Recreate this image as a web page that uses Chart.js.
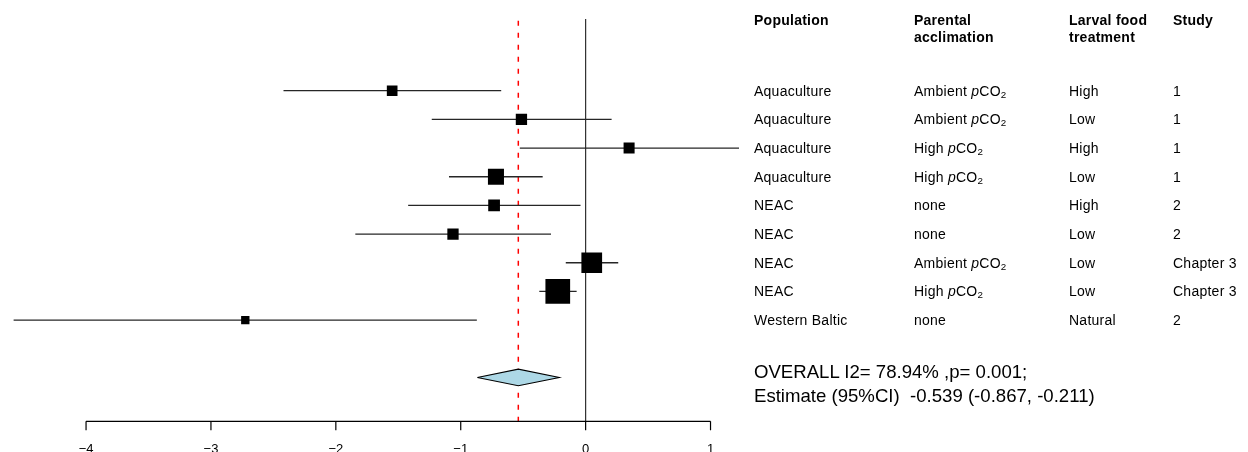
<!DOCTYPE html>
<html>
<head>
<meta charset="utf-8">
<title>Forest plot</title>
<script src="https://cdn.jsdelivr.net/npm/chart.js"></script>
<style>
  body { margin: 0; background: #fff; }
  #wrap { position: relative; width: 1248px; height: 452px; overflow: hidden;
          font-family: "Liberation Sans", Arial, Helvetica, sans-serif; color: #000; }
  #forest { position: absolute; left: 0; top: 0; }
  .cell { position: absolute; font-size: 14px; letter-spacing: 0.25px; line-height: 16px; white-space: nowrap; }
  .head { font-weight: bold; line-height: 17.5px; }
  .overall { position: absolute; left: 754px; top: 360px; font-size: 18.6px; line-height: 24px; white-space: pre; }
  sub { font-size: 0.7em; vertical-align: -0.25em; line-height: 0; }
</style>
</head>
<body>
<div id="wrap">
  <canvas id="forest" width="1248" height="452"></canvas>
</div>

<script type="text/javascript">
// study rows, top to bottom
var population    = ["Aquaculture", "Aquaculture", "Aquaculture", "Aquaculture", "NEAC", "NEAC", "NEAC", "NEAC", "Western Baltic"];
var acclimation   = ["Ambient pCO2", "Ambient pCO2", "High pCO2", "High pCO2", "none", "none", "Ambient pCO2", "High pCO2", "none"];
var foodTreatment = ["High", "Low", "High", "Low", "High", "Low", "Low", "Low", "Natural"];
var study         = ["1", "1", "1", "1", "2", "2", "Chapter 3", "Chapter 3", "2"];

// effect sizes with 95% CI, and weights (%)
var estimate = [-1.549, -0.514, 0.348, -0.718, -0.733, -1.062, 0.049, -0.223, -2.725];
var ciLower  = [-2.419, -1.232, -0.527, -1.094, -1.421, -1.844, -0.159, -0.371, -4.580];
var ciUpper  = [-0.676, 0.208, 1.228, -0.344, -0.041, -0.277, 0.261, -0.072, -0.871];
var weights  = [5.7, 6.4, 6.1, 12.9, 6.9, 6.4, 21.5, 30.6, 3.5];

// summary (random effects)
var overallEstimate = -0.539;
var overallLower    = -0.867;
var overallUpper    = -0.211;
var i2Percent       = 78.94;
var pValue          = 0.001;

var headers    = ["Population", "Parental<br>acclimation", "Larval food<br>treatment", "Study"];
var tickValues = [-4, -3, -2, -1, 0, 1];

// layout of rows on the y scale: study i sits at y = i, summary two rows below the last one
var summaryRow = population.length + 2;
var yTop = -2.164, yBottom = 12.53;
var lineTop = -1.5;
var diamondHalf = 0.29;

function boxSide(w) { return 4.465 * Math.sqrt(w); }
function fmt(v) { return v.toFixed(3); }

var datasets = [];

// zero line and summary line
datasets.push({
  type: "line", data: [{x: 0, y: lineTop}, {x: 0, y: yBottom}],
  borderColor: "#333", borderWidth: 1.2, pointRadius: 0, order: 9
});
datasets.push({
  type: "line", data: [{x: overallEstimate, y: lineTop + 0.06}, {x: overallEstimate, y: yBottom}],
  borderColor: "#ff0000", borderWidth: 1.5, borderDash: [5, 7], pointRadius: 0, order: 8
});

// confidence intervals
for (var i = 0; i < estimate.length; i++) {
  datasets.push({
    type: "line", data: [{x: ciLower[i], y: i + 1}, {x: ciUpper[i], y: i + 1}],
    borderColor: "#262626", borderWidth: 1.3, pointRadius: 0, order: 5
  });
}

// boxes
datasets.push({
  type: "scatter",
  data: estimate.map(function (e, i) { return {x: e, y: i + 1}; }),
  pointStyle: "rect",
  pointRadius: function (c) { return boxSide(weights[c.dataIndex]) / Math.SQRT2; },
  backgroundColor: "#000", borderWidth: 0, order: 1
});

// summary diamond
datasets.push({
  type: "line",
  data: [
    {x: overallLower, y: summaryRow},
    {x: overallEstimate, y: summaryRow - diamondHalf},
    {x: overallUpper, y: summaryRow},
    {x: overallEstimate, y: summaryRow + diamondHalf},
    {x: overallLower, y: summaryRow}
  ],
  fill: "shape", backgroundColor: "#add8e6", borderColor: "#000", borderWidth: 1.1,
  pointRadius: 0, tension: 0, order: 2
});

// R style axis: line only spans the tick range
var bottomAxis = {
  id: "bottomAxis",
  afterDraw: function (chart) {
    var ctx = chart.ctx, xs = chart.scales.x, y0 = chart.chartArea.bottom;
    ctx.save();
    ctx.strokeStyle = "#000";
    ctx.lineWidth = 1.2;
    ctx.beginPath();
    ctx.moveTo(xs.getPixelForValue(tickValues[0]), y0);
    ctx.lineTo(xs.getPixelForValue(tickValues[tickValues.length - 1]), y0);
    tickValues.forEach(function (v) {
      var px = xs.getPixelForValue(v);
      ctx.moveTo(px, y0);
      ctx.lineTo(px, y0 + 9);
    });
    ctx.stroke();
    ctx.fillStyle = "#000";
    ctx.font = '13px "Liberation Sans", Arial, sans-serif';
    ctx.textAlign = "center";
    ctx.textBaseline = "alphabetic";
    tickValues.forEach(function (v) {
      ctx.fillText(String(v).replace("-", "\u2212"), xs.getPixelForValue(v), y0 + 32);
    });
    ctx.restore();
  }
};

var chart = new Chart(document.getElementById("forest"), {
  type: "scatter",
  data: { datasets: datasets },
  options: {
    responsive: false,
    animation: false,
    devicePixelRatio: 1,
    layout: { autoPadding: false, padding: { left: 0, top: 0, right: 508, bottom: 30.7 } },
    scales: {
      x: { type: "linear", min: -4.689, max: 1.236, display: false },
      y: { type: "linear", min: yTop, max: yBottom, reverse: true, display: false }
    },
    plugins: { legend: { display: false }, tooltip: { enabled: false } }
  },
  plugins: [bottomAxis]
});

// table on the right
var wrap = document.getElementById("wrap");
var colX = [754, 914, 1069, 1173];

function cellHtml(s) {
  return s.replace("pCO2", "<i>p</i>CO<sub>2</sub>");
}
function addCell(html, x, y, cls) {
  var d = document.createElement("div");
  d.className = cls;
  d.style.left = x + "px";
  d.style.top = y + "px";
  d.innerHTML = html;
  wrap.appendChild(d);
}

headers.forEach(function (h, c) { addCell(h, colX[c], 11.75, "cell head"); });

var ys = chart.scales.y;
for (var r = 0; r < population.length; r++) {
  var yc = ys.getPixelForValue(r + 1) - 8;
  addCell(cellHtml(population[r]), colX[0], yc, "cell");
  addCell(cellHtml(acclimation[r]), colX[1], yc, "cell");
  addCell(cellHtml(foodTreatment[r]), colX[2], yc, "cell");
  addCell(cellHtml(study[r]), colX[3], yc, "cell");
}

var summary = document.createElement("div");
summary.className = "overall";
summary.textContent =
  "OVERALL I2= " + i2Percent.toFixed(2) + "% ,p= " + pValue.toFixed(3) + ";\n" +
  "Estimate (95%CI)  " + fmt(overallEstimate) + " (" + fmt(overallLower) + ", " + fmt(overallUpper) + ")";
wrap.appendChild(summary);
</script>
</body>
</html>
